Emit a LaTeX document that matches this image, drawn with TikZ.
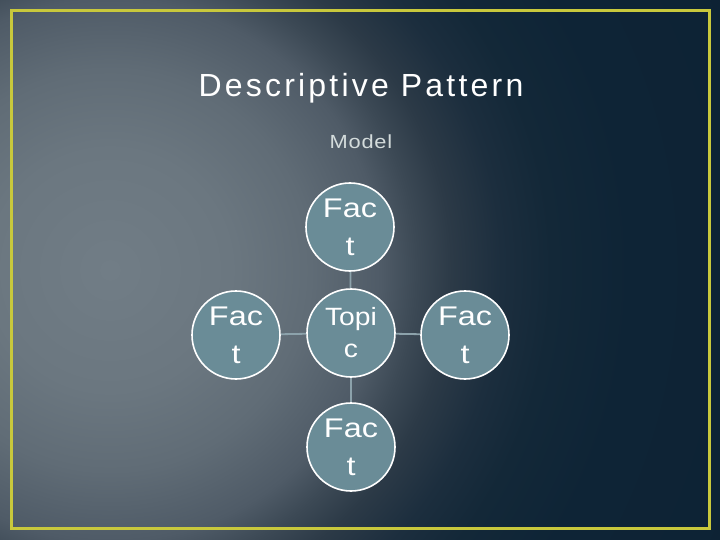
\documentclass[tikz,border=0pt]{standalone}
\usepackage{fontspec}
\setmainfont{Liberation Sans}
\newfontfamily\titlefont[LetterSpace=10]{Liberation Sans}
\newfontfamily\modelfont[FakeStretch=1.15,LetterSpace=4]{Liberation Sans}
\newfontfamily\circfont[FakeStretch=1.2]{Liberation Sans}
\newfontfamily\topicfont[FakeStretch=1.13]{Liberation Sans}
\definecolor{bga}{HTML}{717D86}
\definecolor{bgb}{HTML}{6B7780}
\definecolor{bgc}{HTML}{606C76}
\definecolor{bgd}{HTML}{4F5B67}
\definecolor{bge}{HTML}{3C4955}
\definecolor{bgf}{HTML}{2C3A47}
\definecolor{bgg}{HTML}{1C2E3E}
\definecolor{bgh}{HTML}{132838}
\definecolor{bgi}{HTML}{0E2436}
\definecolor{bgj}{HTML}{0D2234}
\definecolor{frameyellow}{HTML}{C8C83C}
\definecolor{circfill}{HTML}{6A8C97}
\definecolor{linkcol}{HTML}{8CA2AB}
\definecolor{modelcol}{HTML}{D4DCDC}
\pgfdeclareradialshading{bgshade}{\pgfpoint{0bp}{0bp}}{%
  color(0bp)=(bga); color(120bp)=(bgb); color(200bp)=(bgc);
  color(270bp)=(bgd); color(305bp)=(bge); color(340bp)=(bgf);
  color(390bp)=(bgg); color(440bp)=(bgh); color(520bp)=(bgi);
  color(700bp)=(bgj)}
\begin{document}
\begin{tikzpicture}[x=1pt,y=-1pt,
  bubble/.style={circle,draw=white,line width=1.6pt,fill=circfill,
    minimum size=88pt,inner sep=0pt,text=white,align=center,
    font=\circfont\fontsize{27}{38}\selectfont},
  topicbubble/.style={bubble,font=\topicfont\fontsize{25}{32}\selectfont},
  link/.style={draw=linkcol,line width=1.8pt}]
\useasboundingbox (0,0) rectangle (720,540);
\begin{scope}
  \clip (0,0) rectangle (720,540);
  \node[inner sep=0pt,outer sep=0pt] (bg) at (110,270) {\pgfuseshading{bgshade}};
\end{scope}
\draw[frameyellow,line width=3pt] (11,10.5) rectangle (709.5,528.5);
\node[anchor=base,text=white,inner sep=0pt,font=\titlefont\fontsize{32}{38}\selectfont]
  (title) at (361,97) {Descriptive Pattern};
\node[anchor=base,text=modelcol,inner sep=0pt,font=\modelfont\fontsize{19}{22}\selectfont]
  (model) at (361,149) {Model};
\node[topicbubble] (topic) at (351,333) {Topi\\c};
\node[bubble] (top) at (350,227) {Fac\\t};
\node[bubble] (left) at (236,335) {Fac\\t};
\node[bubble] (right) at (465,335) {Fac\\t};
\node[bubble] (bottom) at (351,447) {Fac\\t};
\draw[link] (topic) -- (top);
\draw[link] (topic) -- (left);
\draw[link] (topic) -- (right);
\draw[link] (topic) -- (bottom);
\end{tikzpicture}
\end{document}
